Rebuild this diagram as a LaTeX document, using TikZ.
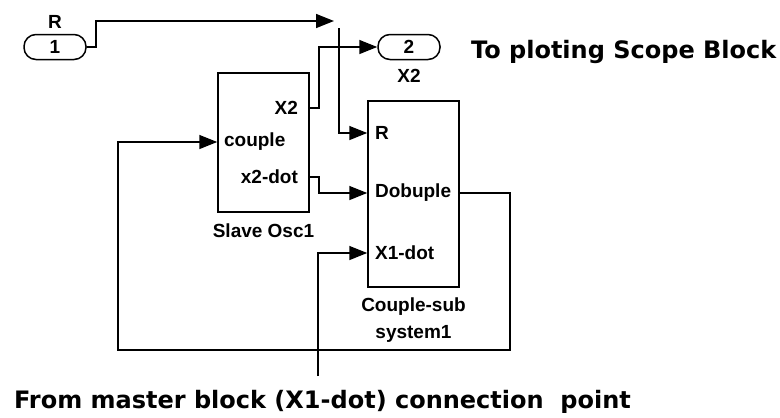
\documentclass[tikz,border=0pt]{standalone}
\usepackage{fontspec}
\setmainfont{Liberation Sans}
\newfontfamily\notefont{DejaVu Sans}
\usepackage{tikz}
\usetikzlibrary{arrows.meta, positioning}
\newcommand{\lbl}{\fontsize{19}{27}\selectfont\bfseries}
\newcommand{\note}{\notefont\fontsize{24}{28}\selectfont\bfseries}

\begin{document}
\begin{tikzpicture}[x=1pt, y=-1pt, >={Triangle[length=18pt, width=14pt]}, line width=1.5pt, font=\lbl]
    \useasboundingbox (0,0) rectangle (780,418);

    % ports
    \node[draw, rounded corners=12pt, minimum width=62pt, minimum height=25pt, inner sep=0pt] (in1) at (55,47) {1};
    \node[above=1pt of in1] (in1lbl) {R};
    \node[draw, rounded corners=12pt, minimum width=62pt, minimum height=25pt, inner sep=0pt] (out2) at (409,47) {2};
    \node[below=5pt of out2] (out2lbl) {X2};

    % blocks
    \node[draw, minimum width=91pt, minimum height=139pt] (slave) at (263.5,142.5) {};
    \node[below=7pt of slave] (slavelbl) {Slave Osc1};
    \node[draw, minimum width=91pt, minimum height=186pt] (csub) at (413.5,194) {};
    \node[below=6pt of csub, align=center] (csublbl) {Couple-sub\\system1};

    % block ports
    \node[anchor=east] (sx2) at (302,108) {X2};
    \node[anchor=west] (scpl) at (220,142) {couple};
    \node[anchor=east] (sx2dot) at (302,177) {x2-dot};
    \node[anchor=west] (cR) at (371,133) {R};
    \node[anchor=west] (cdbl) at (371,193) {Dobuple};
    \node[anchor=west] (cx1) at (371,253) {X1-dot};

    % notes
    \node[anchor=base west, font=\note] (scope) at (467,58) {To ploting Scope Block};
    \node[anchor=base west, font=\note] (master) at (10,408) {From master block (X1-dot) connection\ \ point};

    \coordinate (rtip) at (334,21);
    \coordinate (rtop) at (339,28);
    \coordinate (fb) at (118,350);
    \coordinate (mst) at (318,376);

    \draw[->] (in1.east) -- ++(9,0) |- (rtip);
    \draw[->] (rtop) |- (csub.west |- cR);
    \draw[->] (slave.east |- sx2) -- ++(9,0) |- (out2.west);
    \draw[->] (slave.east |- sx2dot) -- ++(9,0) |- (csub.west |- cdbl);
    \draw[->] (csub.east |- cdbl) -- ++(50,0) |- (fb) |- (slave.west |- scpl);
    \draw[->] (mst) |- (csub.west |- cx1);
\end{tikzpicture}
\end{document}
